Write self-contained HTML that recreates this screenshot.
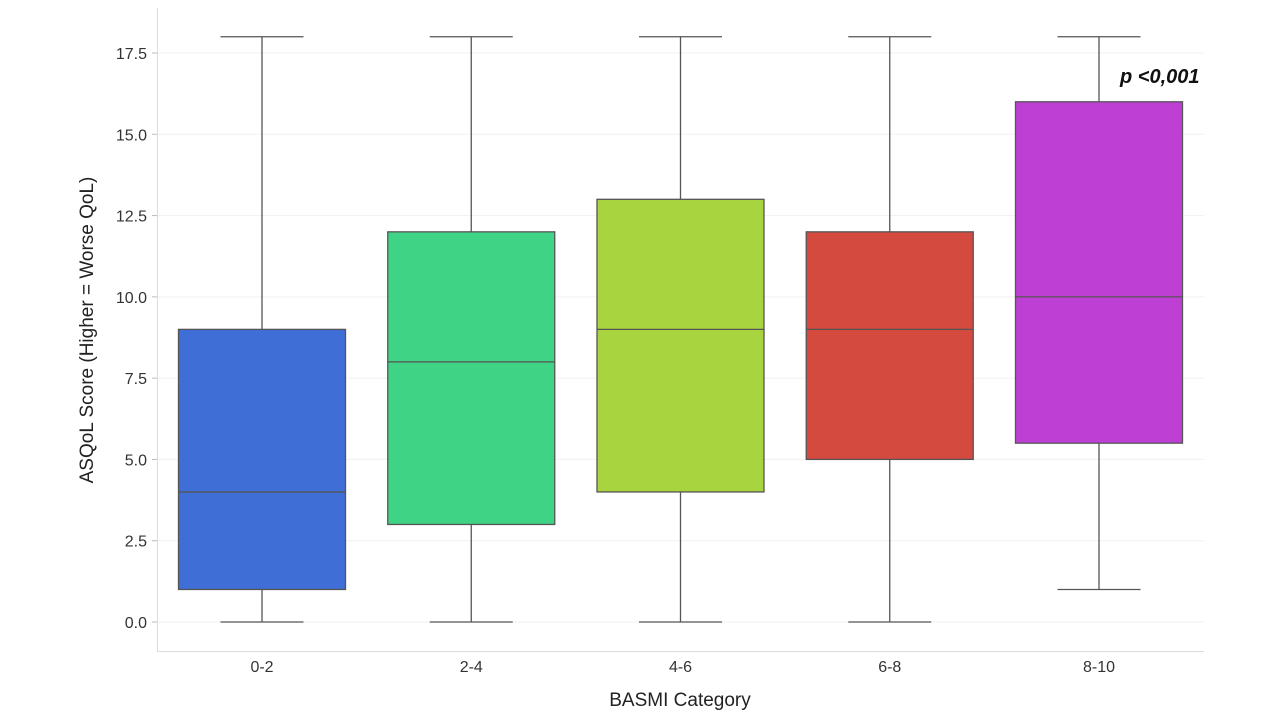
<!DOCTYPE html>
<html><head><meta charset="utf-8"><style>
html,body{margin:0;padding:0;background:#fff;}
svg{display:block;font-family:"Liberation Sans",sans-serif;}
</style></head><body>
<svg id="chart" width="1280" height="720" viewBox="0 0 1280 720" xmlns="http://www.w3.org/2000/svg">
<g id="grid"></g>
<g id="boxes"></g>
<line x1="157.5" y1="8" x2="157.5" y2="651" stroke="#dcdcdc" stroke-width="1"/>
<line x1="157" y1="651.5" x2="1204" y2="651.5" stroke="#dcdcdc" stroke-width="1"/>
<g id="yticks"></g>
<g id="xticks"></g>
<text transform="translate(93,330) rotate(-90)" text-anchor="middle" font-size="19" fill="#222">ASQoL Score (Higher = Worse QoL)</text>
<text x="680" y="706" text-anchor="middle" font-size="19" fill="#222">BASMI Category</text>
<text x="1120" y="83" font-size="20" font-weight="bold" font-style="italic" fill="#111">p &lt;0,001</text>
</svg>
<script>
const categories = ["0-2","2-4","4-6","6-8","8-10"];
const mins = [0,0,0,0,1];
const q1s = [1,3,4,5,5.5];
const medians = [4,8,9,9,10];
const q3s = [9,12,13,12,16];
const maxs = [18,18,18,18,18];
const colors = ["#3f6ed6","#3fd485","#a8d43f","#d44a3f","#be3fd4"];
const yTicks = [0,2.5,5,7.5,10,12.5,15,17.5];
const yTickLabels = ["0.0","2.5","5.0","7.5","10.0","12.5","15.0","17.5"];

const NS="http://www.w3.org/2000/svg";
const y = v => 622 - v*32.514;
const x = i => 262 + i*209.25;
const bw = 167, cw = 83;
function mk(tag, attrs, parent){const e=document.createElementNS(NS,tag);for(const k in attrs)e.setAttribute(k,attrs[k]);parent.appendChild(e);return e;}
const grid=document.getElementById('grid'), yt=document.getElementById('yticks'), xt=document.getElementById('xticks'), bx=document.getElementById('boxes');
yTicks.forEach((v,i)=>{
  const g=mk('line',{x1:158,x2:1204,y1:y(v),y2:y(v),stroke:'#f0f0f0','stroke-width':1},grid);
  
  
  const t=mk('line',{x1:152,x2:157,y1:y(v),y2:y(v),stroke:'#bbb'},yt);
  
  
  const l=mk('text',{x:147,y:y(v)+6,'text-anchor':'end','font-size':16,fill:'#333'},yt);
  l.textContent=yTickLabels[i];
  
  
});
categories.forEach((c,i)=>{
  const cx=x(i);
  const l=mk('text',{x:cx,y:672,'text-anchor':'middle','font-size':16,fill:'#333'},xt);
  l.textContent=c;
  
  
  const g=mk('g',{},bx);
  
  
  const s={stroke:'#555','stroke-width':1.3};
  mk('line',Object.assign({x1:cx,x2:cx,y1:y(maxs[i]),y2:y(q3s[i])},s),g);
  mk('line',Object.assign({x1:cx,x2:cx,y1:y(q1s[i]),y2:y(mins[i])},s),g);
  mk('line',Object.assign({x1:cx-cw/2,x2:cx+cw/2,y1:y(maxs[i]),y2:y(maxs[i])},s),g);
  mk('line',Object.assign({x1:cx-cw/2,x2:cx+cw/2,y1:y(mins[i]),y2:y(mins[i])},s),g);
  mk('rect',{x:cx-bw/2,y:y(q3s[i]),width:bw,height:y(q1s[i])-y(q3s[i]),fill:colors[i],stroke:'#555','stroke-width':1.3},g);
  mk('line',Object.assign({x1:cx-bw/2,x2:cx+bw/2,y1:y(medians[i]),y2:y(medians[i])},s),g);
});
</script>
</body></html>
